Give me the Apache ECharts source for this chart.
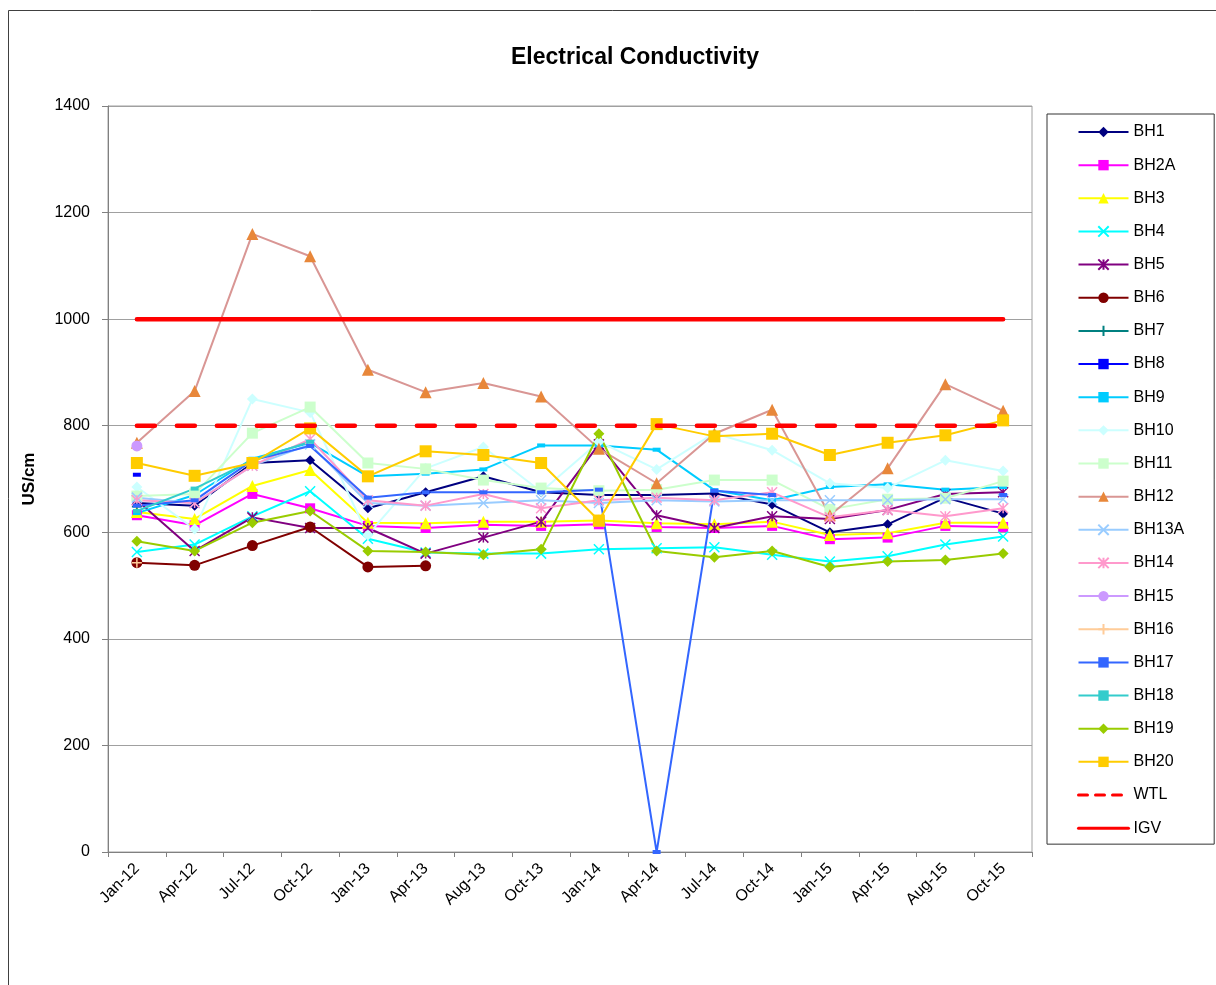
<!DOCTYPE html>
<html>
<head>
<meta charset="utf-8">
<title>Electrical Conductivity</title>
<script src="https://cdn.jsdelivr.net/npm/echarts@6/dist/echarts.min.js"></script>
<style>
  html, body { margin: 0; padding: 0; background: #fff; }
  #chart { width: 1216px; height: 985px; }
</style>
</head>
<body>
<div id="chart"></div>
<script>
// Sampling dates
const months = ['Jan-12','Apr-12','Jul-12','Oct-12','Jan-13','Apr-13','Aug-13','Oct-13',
                'Jan-14','Apr-14','Jul-14','Oct-14','Jan-15','Apr-15','Aug-15','Oct-15'];

// Conductivity readings (US/cm) per borehole; null = no reading
const BH1  = [655, 650, 730, 735, 645, 675, 705, 675, 670, 670, 673, 652, 600, 615, 665, 635];
const BH2A = [632, 613, 672, 645, 612, 608, 614, 612, 615, 610, 608, 612, 587, 590, 612, 610];
const BH3  = [638, 625, 687, 717, 618, 617, 620, 620, 622, 617, 615, 620, 595, 598, 618, 618];
const BH4  = [563, 577, 630, 677, 588, 562, 560, 560, 568, 570, 572, 558, 545, 555, 577, 592];
const BH5  = [660, 565, 628, 608, 608, 560, 590, 620, 765, 632, 608, 630, 625, 642, 672, 675];
const BH6  = [543, 538, 575, 610, 535, 537, null, null, null, null, null, null, null, null, null, null];
const BH7  = [648, null, null, null, null, null, null, null, null, null, null, null, null, null, null, null];
const BH8  = [708, null, null, null, null, null, null, null, null, null, null, null, null, null, null, null];
const BH9  = [636, 670, 738, 768, 705, 710, 718, 763, 763, 755, 679, 660, 685, 690, 680, 685];
const BH10 = [685, 606, 850, 825, 595, 720, 760, 676, 770, 718, 786, 754, 692, 683, 735, 715];
const BH11 = [668, 672, 786, 835, 730, 719, 698, 683, 678, 680, 698, 698, 643, 662, 664, 696];
const BH12 = [768, 865, 1160, 1118, 905, 863, 880, 855, 757, 692, 785, 830, 632, 720, 878, 828];
const BH13A= [665, 655, 725, 765, 655, 650, 655, 660, 655, 660, 658, 660, 660, 660, 662, 662];
const BH14 = [660, 655, 725, 775, 660, 650, 672, 645, 660, 665, 660, 675, 628, 642, 630, 645];
const BH15 = [762, null, null, null, null, null, null, null, null, null, null, null, null, null, null, null];
const BH16 = [543, null, null, null, null, null, null, null, null, null, null, null, null, null, null, null];
const BH17 = [650, 660, 735, 762, 665, 675, 675, 675, 680, 0, 678, 670, null, null, null, 670];
const BH18 = [640, 682, 735, 770, null, null, null, null, null, null, null, null, null, null, null, null];
const BH19 = [583, 565, 618, 640, 565, 563, 558, 568, 785, 565, 553, 565, 535, 545, 548, 560];
const BH20 = [730, 706, 730, 795, 705, 752, 745, 730, 622, 803, 780, 785, 745, 768, 782, 810];

// Guideline levels
const WTL = [800, 800, 800, 800, 800, 800, 800, 800, 800, 800, 800, 800, 800, 800, 800, 800];
const IGV = [1000, 1000, 1000, 1000, 1000, 1000, 1000, 1000, 1000, 1000, 1000, 1000, 1000, 1000, 1000, 1000];

const CROSS = 'path://M0,0L10,10M10,0L0,10';
const ASTER = 'path://M0,0L10,10M10,0L0,10M5,0L5,10';
const PLUS  = 'path://M5,0L5,10M0,5L10,5';

const FONT = 'Liberation Sans, Arial, sans-serif';

function well(name, data, color, symbol, size, opts) {
  opts = opts || {};
  const stroked = symbol.indexOf('path://') === 0;
  return {
    name: name,
    type: 'line',
    data: data,
    symbol: symbol,
    symbolSize: size,
    showAllSymbol: true,
    connectNulls: false,
    lineStyle: { color: opts.line || color, width: 2 },
    itemStyle: stroked
      ? { color: color, borderColor: color, borderWidth: 1.5 }
      : { color: opts.marker || color, borderWidth: 0 },
    emphasis: { disabled: true },
    z: 2
  };
}

const series = [
  well('BH1',  BH1,  '#000080', 'diamond', 10),
  well('BH2A', BH2A, '#ff00ff', 'rect', 10),
  well('BH3',  BH3,  '#ffff00', 'triangle', 12),
  well('BH4',  BH4,  '#00ffff', CROSS, 10),
  well('BH5',  BH5,  '#800080', ASTER, 10),
  well('BH6',  BH6,  '#800000', 'circle', 11),
  well('BH7',  BH7,  '#008080', PLUS, 10),
  well('BH8',  BH8,  '#0000ff', 'rect', [8, 4]),
  well('BH9',  BH9,  '#00ccff', 'rect', [8, 4]),
  well('BH10', BH10, '#ccffff', 'diamond', 11),
  well('BH11', BH11, '#ccffcc', 'rect', 11),
  well('BH12', BH12, '#d99694', 'triangle', 12, { line: '#d99694', marker: '#e8873a' }),
  well('BH13A',BH13A,'#99ccff', CROSS, 10),
  well('BH14', BH14, '#ff99cc', ASTER, 10),
  well('BH15', BH15, '#cc99ff', 'circle', 11),
  well('BH16', BH16, '#ffcc99', PLUS, 10),
  well('BH17', BH17, '#3366ff', 'rect', [8, 4]),
  well('BH18', BH18, '#33cccc', 'rect', [8, 4]),
  well('BH19', BH19, '#99cc00', 'diamond', 11),
  well('BH20', BH20, '#ffcc00', 'rect', 12),
  {
    name: 'WTL', type: 'line', data: WTL, symbol: 'none',
    lineStyle: { color: '#ff0000', width: 4.5, type: [18, 22], cap: 'round' },
    itemStyle: { color: '#ff0000' }, emphasis: { disabled: true }, z: 3
  },
  {
    name: 'IGV', type: 'line', data: IGV, symbol: 'none',
    lineStyle: { color: '#ff0000', width: 4.5, cap: 'round' },
    itemStyle: { color: '#ff0000' }, emphasis: { disabled: true }, z: 3
  }
];

// Legend entries; the two guideline rows show only their line
const legendData = series.map(s =>
  (s.name === 'WTL' || s.name === 'IGV')
    ? { name: s.name, itemStyle: { opacity: 0 }, lineStyle: { width: 3, type: s.name === 'WTL' ? [9, 8] : 'solid' } }
    : { name: s.name }
);

const chart = echarts.init(document.getElementById('chart'), null, { renderer: 'canvas' });
chart.setOption({
  animation: false,
  backgroundColor: '#ffffff',
  textStyle: { fontFamily: FONT, color: '#000' },
  title: {
    text: 'Electrical Conductivity',
    left: 630, top: 41, textAlign: 'center',
    textStyle: { fontSize: 23, fontWeight: 'bold', color: '#000', fontFamily: FONT }
  },
  graphic: [{
    type: 'rect', silent: true, z: -10,
    shape: { x: 8.5, y: 10.5, width: 1230, height: 1000 },
    style: { fill: 'none', stroke: '#404040', lineWidth: 1 }
  }],
  legend: {
    orient: 'vertical',
    left: 1047, top: 114,
    padding: [10, 30, 8, 30],
    itemWidth: 50, itemHeight: 13, itemGap: 17.15,
    borderColor: '#333', borderWidth: 1,
    textStyle: { fontSize: 16, color: '#000', fontFamily: FONT },
    data: legendData
  },
  grid: {
    left: 108, right: 184, top: 106, bottom: 133,
    show: true, borderColor: '#a0a0a0', borderWidth: 1
  },
  xAxis: {
    type: 'category',
    data: months,
    boundaryGap: true,
    axisLine: { lineStyle: { color: '#808080' } },
    axisTick: { show: true, length: 5, lineStyle: { color: '#808080' } },
    axisLabel: { rotate: 45, fontSize: 16, color: '#000', margin: 14, interval: 0 }
  },
  yAxis: {
    type: 'value',
    min: 0, max: 1400, interval: 200,
    name: 'US/cm',
    nameLocation: 'middle',
    nameGap: 70,
    nameRotate: 90,
    nameTextStyle: { fontSize: 17, fontWeight: 'bold', color: '#000' },
    axisLine: { show: true, lineStyle: { color: '#808080' } },
    axisTick: { show: true, length: 6, lineStyle: { color: '#808080' } },
    axisLabel: { fontSize: 16, color: '#000', margin: 18, formatter: v => String(v) },
    splitLine: { lineStyle: { color: '#a0a0a0', width: 1 } }
  },
  series: series
});
</script>
</body>
</html>
